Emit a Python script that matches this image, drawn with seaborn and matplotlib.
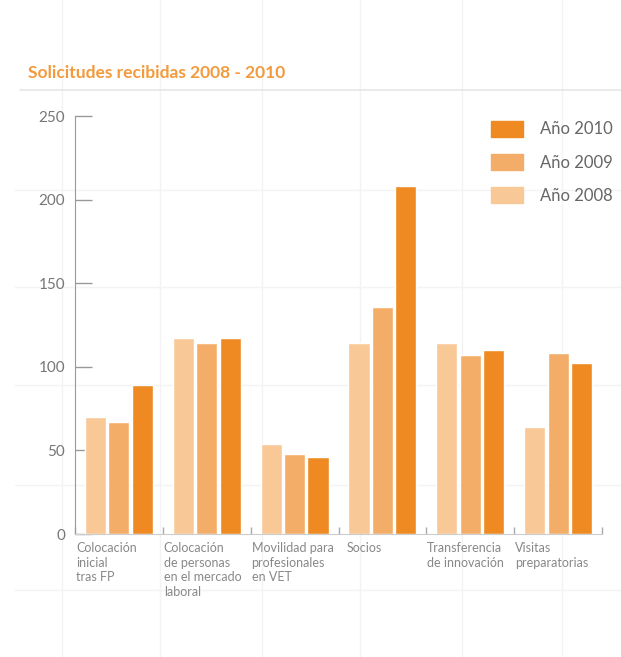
import matplotlib
matplotlib.use("Agg")
import matplotlib.pyplot as plt
from matplotlib.lines import Line2D
from matplotlib.patches import Patch
import pandas as pd
import seaborn as sns

categories = [
    "Colocación\ninicial\ntras FP",
    "Colocación\nde personas\nen el mercado\nlaboral",
    "Movilidad para\nprofesionales\nen VET",
    "Socios",
    "Transferencia\nde innovación",
    "Visitas\npreparatorias",
]
years = ["Año 2008", "Año 2009", "Año 2010"]
vals_2008 = [70, 117, 54, 114, 114, 64]
vals_2009 = [67, 114, 48, 136, 107, 108]
vals_2010 = [89, 117, 46, 208, 110, 102]
colors = ["#f8c997", "#f4ad68", "#ee8a21"]
yticks = [0, 50, 100, 150, 200, 250]

df = pd.DataFrame({
    "cat": categories * 3,
    "year": [y for y in years for _ in categories],
    "val": vals_2008 + vals_2009 + vals_2010,
})

sns.set_style("white")
plt.rcParams["font.family"] = ["Lato", "DejaVu Sans"]

fig = plt.figure(figsize=(6.21, 6.57), dpi=100)
ax = fig.add_axes([75 / 621, 1 - 534 / 657, 527 / 621, 418 / 657])

# faint page grid from the scanned brochure
grid_c = "#f3f3f3"
for xp in [62, 160, 262, 360, 462, 562]:
    fig.add_artist(Line2D([xp / 621, xp / 621], [0, 1], color=grid_c, lw=1, zorder=0))
fig.add_artist(Line2D([20 / 621, 1], [1 - 90 / 657] * 2, color="#e6e6e6", lw=1.2, zorder=0))
for yp in [190, 287, 385, 485, 590]:
    fig.add_artist(Line2D([15 / 621, 1], [1 - yp / 657] * 2, color=grid_c, lw=1, zorder=0))

sns.barplot(data=df, x="cat", y="val", hue="year", hue_order=years,
            palette=colors, order=categories, width=0.8, gap=0.1,
            saturation=1, ax=ax, legend=False)
ax.patch.set_alpha(0)

ax.set_xlim(-0.5, len(categories) - 0.5)
ax.set_ylim(0, 250)
ax.set_yticks(yticks)
ax.set_yticklabels([str(t) for t in yticks], color="#777777", fontsize=11)
ax.tick_params(axis="y", left=True, direction="in", length=12, width=1,
               color="#999999", pad=7)
ax.set_xticks([i - 0.5 for i in range(len(categories) + 1)])
ax.set_xticklabels([])
ax.tick_params(axis="x", bottom=True, direction="in", length=5, width=1, color="#aaaaaa")
ax.set_xlabel("")
ax.set_ylabel("")
for s in ["top", "right"]:
    ax.spines[s].set_visible(False)
ax.spines["left"].set_color("#999999")
ax.spines["bottom"].set_color("#cccccc")

for i, lab in enumerate(categories):
    dx = 0.09 if lab == "Socios" else 0.01
    ax.text(i - 0.5 + dx, -5, lab, ha="left", va="top", fontsize=9,
            color="#888888", linespacing=1.25)

fig.text(28 / 621, 1 - 73 / 657, "Solicitudes recibidas 2008 - 2010",
         color="#f39a3c", fontsize=12.5, fontweight="bold", va="center")

handles = [Patch(color=c) for c in colors][::-1]
leg = ax.legend(handles, years[::-1], loc="upper right", bbox_to_anchor=(1.048, 1.025),
                frameon=False, fontsize=12, handlelength=1.9, handleheight=1.1,
                labelspacing=1.0, handletextpad=1.0, labelcolor="#666666")

fig.savefig("out.png", dpi=100, facecolor="white")
